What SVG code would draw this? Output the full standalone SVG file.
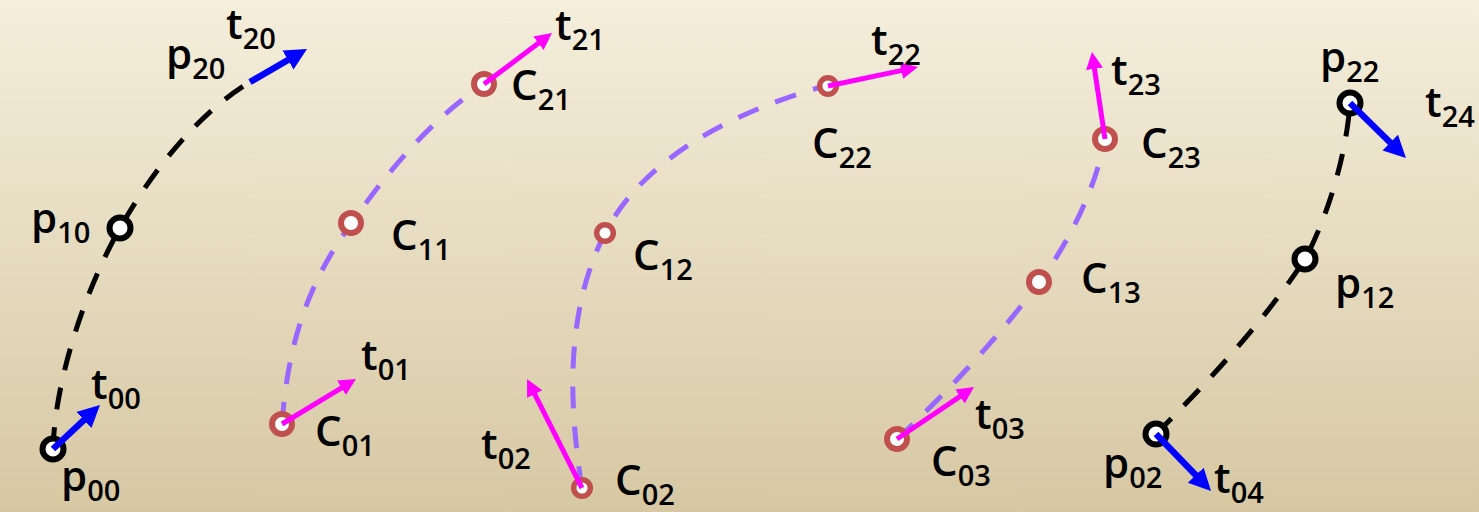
<svg xmlns="http://www.w3.org/2000/svg" width="1479" height="512" viewBox="0 0 1479 512">
  <defs>
    <linearGradient id="bg" x1="0" y1="0" x2="0" y2="1">
      <stop offset="0" stop-color="#f4eedb"/>
      <stop offset="1" stop-color="#d7c8a3"/>
    </linearGradient>
    <marker id="headBlue" markerUnits="userSpaceOnUse" markerWidth="24" markerHeight="24" refX="2" refY="11" orient="auto">
      <path d="M0,0 L22,11 L0,22 z" fill="#0000ff"/>
    </marker>
    <marker id="headMag" markerUnits="userSpaceOnUse" markerWidth="20" markerHeight="20" refX="2" refY="8.5" orient="auto">
      <path d="M0,0 L17,8.5 L0,17 z" fill="#ff00ff"/>
    </marker>
    <style>
      .curveP { fill: none; stroke: #000000; stroke-width: 5; stroke-dasharray: 22 18; }
      .curveC { fill: none; stroke: #9966ff; stroke-width: 5; stroke-dasharray: 22 18; }
      .ptP { fill: #ffffff; stroke: #000000; stroke-width: 6; }
      .ptC { fill: #ffffff; stroke: #c0504d; stroke-width: 6; }
      .ptCs { fill: #ffffff; stroke: #c0504d; stroke-width: 5.5; }
      .tBlue { stroke: #0000ff; stroke-width: 6.5; marker-end: url(#headBlue); }
      .tMag { stroke: #ff00ff; stroke-width: 5; marker-end: url(#headMag); }
      .lbl { font-family: "Open Sans", "DejaVu Sans", sans-serif; font-weight: 600; font-size: 42px; fill: #000000; }
      .sub { font-size: 29px; }
    </style>
  </defs>

  <rect x="0" y="0" width="1479" height="512" fill="url(#bg)"/>

  <g id="connectors">
    <path class="curveP" d="M53,449 C55,380 85,290 120,228 C150,175 195,115 250,82"/>
    <path class="curveC" d="M282,424 C288,340 310,280 351,224 C385,175 430,120 484,84"/>
    <path class="curveC" d="M582,488 C568,400 566,310 605,233 C640,165 720,115 828,85"/>
    <path class="curveC" d="M897,439 C950,390 1000,335 1039,283 C1070,240 1095,190 1105,139"/>
    <path class="curveP" d="M1156,434 C1210,380 1265,320 1305,259 C1325,222 1346,160 1350,103"/>
  </g>

  <g id="p00"><circle class="ptP" cx="53" cy="449" r="10.5"/><text class="lbl" x="61" y="491">p<tspan class="sub" dy="10">00</tspan></text></g>
  <g id="p10"><circle class="ptP" cx="120" cy="228" r="10.5"/><text class="lbl" x="31" y="233">p<tspan class="sub" dy="10">10</tspan></text></g>
  <g id="p20"><text class="lbl" x="166" y="69">p<tspan class="sub" dy="10">20</tspan></text></g>

  <g id="C01"><circle class="ptC" cx="282" cy="424" r="10"/><text class="lbl" x="315" y="446">C<tspan class="sub" dy="10">01</tspan></text></g>
  <g id="C11"><circle class="ptC" cx="351" cy="223" r="10"/><text class="lbl" x="391" y="250">C<tspan class="sub" dy="10">11</tspan></text></g>
  <g id="C21"><circle class="ptC" cx="484" cy="84" r="10"/><text class="lbl" x="511" y="100">C<tspan class="sub" dy="10">21</tspan></text></g>

  <g id="C02"><circle class="ptCs" cx="582" cy="488" r="8.3"/><text class="lbl" x="615" y="495">C<tspan class="sub" dy="10">02</tspan></text></g>
  <g id="C12"><circle class="ptCs" cx="605" cy="233" r="8.3"/><text class="lbl" x="633" y="270">C<tspan class="sub" dy="10">12</tspan></text></g>
  <g id="C22"><circle class="ptCs" cx="828" cy="86" r="8.3"/><text class="lbl" x="812" y="158">C<tspan class="sub" dy="10">22</tspan></text></g>

  <g id="C03"><circle class="ptC" cx="897" cy="439" r="10"/><text class="lbl" x="931" y="476">C<tspan class="sub" dy="10">03</tspan></text></g>
  <g id="C13"><circle class="ptC" cx="1039" cy="282" r="10"/><text class="lbl" x="1081" y="293">C<tspan class="sub" dy="10">13</tspan></text></g>
  <g id="C23"><circle class="ptC" cx="1105" cy="139" r="10"/><text class="lbl" x="1141" y="158">C<tspan class="sub" dy="10">23</tspan></text></g>

  <g id="p02"><circle class="ptP" cx="1156" cy="434" r="10.5"/><text class="lbl" x="1103" y="478">p<tspan class="sub" dy="10">02</tspan></text></g>
  <g id="p12"><circle class="ptP" cx="1305" cy="259" r="10.5"/><text class="lbl" x="1335" y="298">p<tspan class="sub" dy="10">12</tspan></text></g>
  <g id="p22"><circle class="ptP" cx="1350" cy="103" r="10.5"/><text class="lbl" x="1320" y="72">p<tspan class="sub" dy="10">22</tspan></text></g>

  <g id="t00"><line class="tBlue" x1="53" y1="449" x2="85.4" y2="418.7"/><text class="lbl" x="91" y="399">t<tspan class="sub" dy="10">00</tspan></text></g>
  <g id="t20"><line class="tBlue" x1="250" y1="82" x2="289.7" y2="59"/><text class="lbl" x="226" y="39">t<tspan class="sub" dy="10">20</tspan></text></g>
  <g id="t01"><line class="tMag" x1="282" y1="424" x2="343.2" y2="386.8"/><text class="lbl" x="361" y="370">t<tspan class="sub" dy="10">01</tspan></text></g>
  <g id="t21"><line class="tMag" x1="484" y1="84" x2="540" y2="42"/><text class="lbl" x="555" y="40">t<tspan class="sub" dy="10">21</tspan></text></g>
  <g id="t02"><line class="tMag" x1="582" y1="488" x2="533.8" y2="392.4"/><text class="lbl" x="481" y="459">t<tspan class="sub" dy="10">02</tspan></text></g>
  <g id="t22"><line class="tMag" x1="828" y1="86" x2="903.3" y2="70.1"/><text class="lbl" x="871" y="55">t<tspan class="sub" dy="10">22</tspan></text></g>
  <g id="t03"><line class="tMag" x1="897" y1="439" x2="961.6" y2="395.4"/><text class="lbl" x="975" y="429">t<tspan class="sub" dy="10">03</tspan></text></g>
  <g id="t23"><line class="tMag" x1="1105" y1="139" x2="1094.2" y2="66.8"/><text class="lbl" x="1111" y="85">t<tspan class="sub" dy="10">23</tspan></text></g>
  <g id="t04"><line class="tBlue" x1="1156" y1="434" x2="1197.1" y2="476.6"/><text class="lbl" x="1214" y="493">t<tspan class="sub" dy="10">04</tspan></text></g>
  <g id="t24"><line class="tBlue" x1="1350" y1="103" x2="1391.7" y2="144"/><text class="lbl" x="1425" y="117">t<tspan class="sub" dy="10">24</tspan></text></g>
</svg>
